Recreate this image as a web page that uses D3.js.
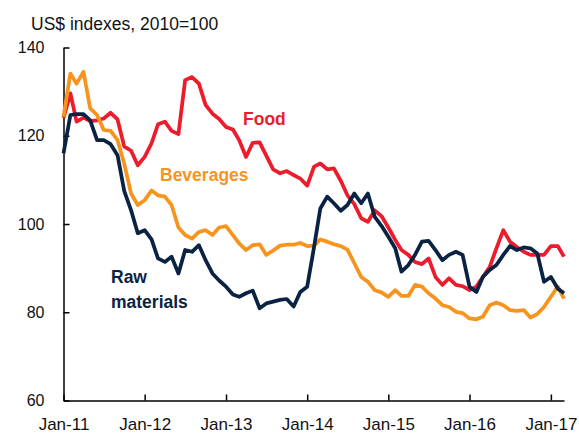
<!DOCTYPE html>
<html>
<head>
<meta charset="utf-8">
<script src="https://cdn.jsdelivr.net/npm/d3@7"></script>
<style>
  body { margin: 0; background: #fff; }
  svg { display: block; font-family: Arial, "Liberation Sans", sans-serif; }
</style>
</head>
<body>
<svg id="chart" width="579" height="436"></svg>
<script>
// Monthly index values, Jan-11 .. Mar-17 (US$, 2010=100)
const food = [
  124.0, 129.6, 123.2, 124.1, 123.3, 123.5, 123.9, 125.2, 123.7, 117.6,
  116.6, 113.3, 115.2, 118.3, 122.6, 123.2, 121.1, 120.4, 132.6, 133.3,
  131.8, 127.0, 125.0, 123.8, 122.0, 121.4, 119.0, 115.2, 118.4, 118.5,
  115.5, 112.4, 111.5, 112.0, 111.1, 110.3, 108.7, 113.0, 113.7, 112.4,
  112.6, 109.8, 106.5, 104.5, 101.3, 100.5, 103.1, 101.8, 99.2, 96.4,
  94.1, 93.0, 91.4, 90.9, 92.2, 88.0, 86.2, 87.7, 86.2, 85.9,
  85.0, 85.8, 88.0, 90.3, 94.5, 98.6, 96.0, 94.8, 93.7, 93.0,
  93.0, 93.0, 95.0, 95.0, 92.6
];
const beverages = [
  124.3, 134.1, 131.8, 134.5, 126.2, 124.7, 121.3, 121.1, 119.0, 113.7,
  106.9, 104.3, 105.4, 107.6, 106.5, 106.2, 104.3, 99.2, 97.5, 96.7,
  98.2, 98.6, 97.5, 99.2, 99.5, 97.5, 95.6, 94.1, 95.2, 95.4,
  93.0, 94.0, 95.1, 95.3, 95.3, 95.7, 95.0, 95.1, 96.5, 96.0,
  95.4, 95.0, 94.2, 91.1, 88.0, 86.9, 85.0, 84.5, 83.5, 85.0,
  83.7, 83.7, 86.2, 85.8, 84.3, 83.1, 81.6, 81.2, 80.1, 79.8,
  78.6, 78.4, 79.0, 81.6, 82.2, 81.6, 80.5, 80.3, 80.5, 78.8,
  79.6, 81.2, 83.5, 85.8, 83.1
];
const rawMaterials = [
  116.0, 124.7, 124.9, 124.9, 123.5, 119.0, 119.0, 118.1, 115.6, 107.5,
  103.1, 97.9, 98.6, 96.5, 92.2, 91.4, 92.6, 88.8, 94.1, 93.7,
  95.2, 91.8, 88.8, 87.2, 85.8, 84.0, 83.5, 84.3, 84.9, 80.9,
  82.0, 82.4, 82.8, 83.0, 81.3, 84.6, 85.8, 94.8, 103.5, 106.2,
  104.7, 103.0, 104.3, 106.9, 104.7, 106.9, 101.6, 99.6, 97.1, 94.5,
  89.2, 90.7, 93.0, 96.0, 96.2, 94.1, 91.8, 93.0, 93.7, 93.0,
  85.8, 84.6, 88.0, 89.6, 90.7, 93.0, 95.0, 94.1, 94.7, 94.5,
  93.3, 86.9, 88.0, 85.4, 84.3
];

// Axis labels
const xTickLabels = ['Jan-11', 'Jan-12', 'Jan-13', 'Jan-14', 'Jan-15', 'Jan-16', 'Jan-17'];
const yTickValues = [60, 80, 100, 120, 140];

// Month categories
const months = d3.timeMonth.range(new Date(2011, 0, 1), new Date(2017, 3, 1));
const parseTick = d3.timeParse('%b-%y');

const series = [
  { name: 'Food', values: food, color: '#ec1c2d' },
  { name: 'Beverages', values: beverages, color: '#f7941d' },
  { name: 'Raw materials', values: rawMaterials, color: '#0b2343' }
];

const svg = d3.select('#chart');

const x = d3.scaleTime()
  .domain([months[0], months[months.length - 1]])
  .range([63.5, 564]);

const y = d3.scaleLinear()
  .domain([60, 140])
  .range([400.5, 47.5]);

// Y axis (ticks point inward)
const yAxis = svg.append('g')
  .attr('transform', 'translate(63.5,0)')
  .call(d3.axisLeft(y).tickValues(yTickValues).tickSize(-6).tickPadding(19).tickSizeOuter(0));

// X axis
const xAxis = svg.append('g')
  .attr('transform', 'translate(0,400.5)')
  .call(d3.axisBottom(x)
    .tickValues(xTickLabels.map(parseTick))
    .tickFormat(d3.timeFormat('%b-%y'))
    .tickSize(-6).tickPadding(17).tickSizeOuter(0));

[yAxis, xAxis].forEach(g => {
  g.select('.domain').attr('stroke', '#000').attr('stroke-width', 1.5);
  g.selectAll('.tick line').attr('stroke', '#000').attr('stroke-width', 1.5);
  g.selectAll('.tick text').attr('fill', '#111').style('font-family', 'Arial, "Liberation Sans", sans-serif');
});
yAxis.selectAll('.tick text').style('font-size', '16px');
xAxis.selectAll('.tick text').style('font-size', '17px');

// Draw the lines
const line = d3.line()
  .x((d, i) => x(months[i]))
  .y(d => y(d));

series.forEach(s => {
  svg.append('path')
    .datum(s.values)
    .attr('fill', 'none')
    .attr('stroke', s.color)
    .attr('stroke-width', 3.75)
    .attr('stroke-linejoin', 'round')
    .attr('d', line);
});

// Unit title
svg.append('text')
  .attr('x', 31)
  .attr('y', 30)
  .style('font-size', '17.5px')
  .attr('fill', '#111')
  .text('US$ indexes, 2010=100');

// Series labels
const labels = [
  { lines: ['Food'], x: 243, y: 124.5, color: series[0].color },
  { lines: ['Beverages'], x: 160, y: 180.5, color: series[1].color },
  { lines: ['Raw', 'materials'], x: 111, y: 282.5, color: series[2].color }
];

labels.forEach(l => {
  const t = svg.append('text')
    .attr('x', l.x)
    .attr('y', l.y)
    .attr('fill', l.color)
    .style('font-size', '17.5px')
    .style('font-weight', 'bold');
  l.lines.forEach((txt, i) => {
    t.append('tspan').attr('x', l.x).attr('dy', i === 0 ? 0 : 25).text(txt);
  });
});
</script>
</body>
</html>
